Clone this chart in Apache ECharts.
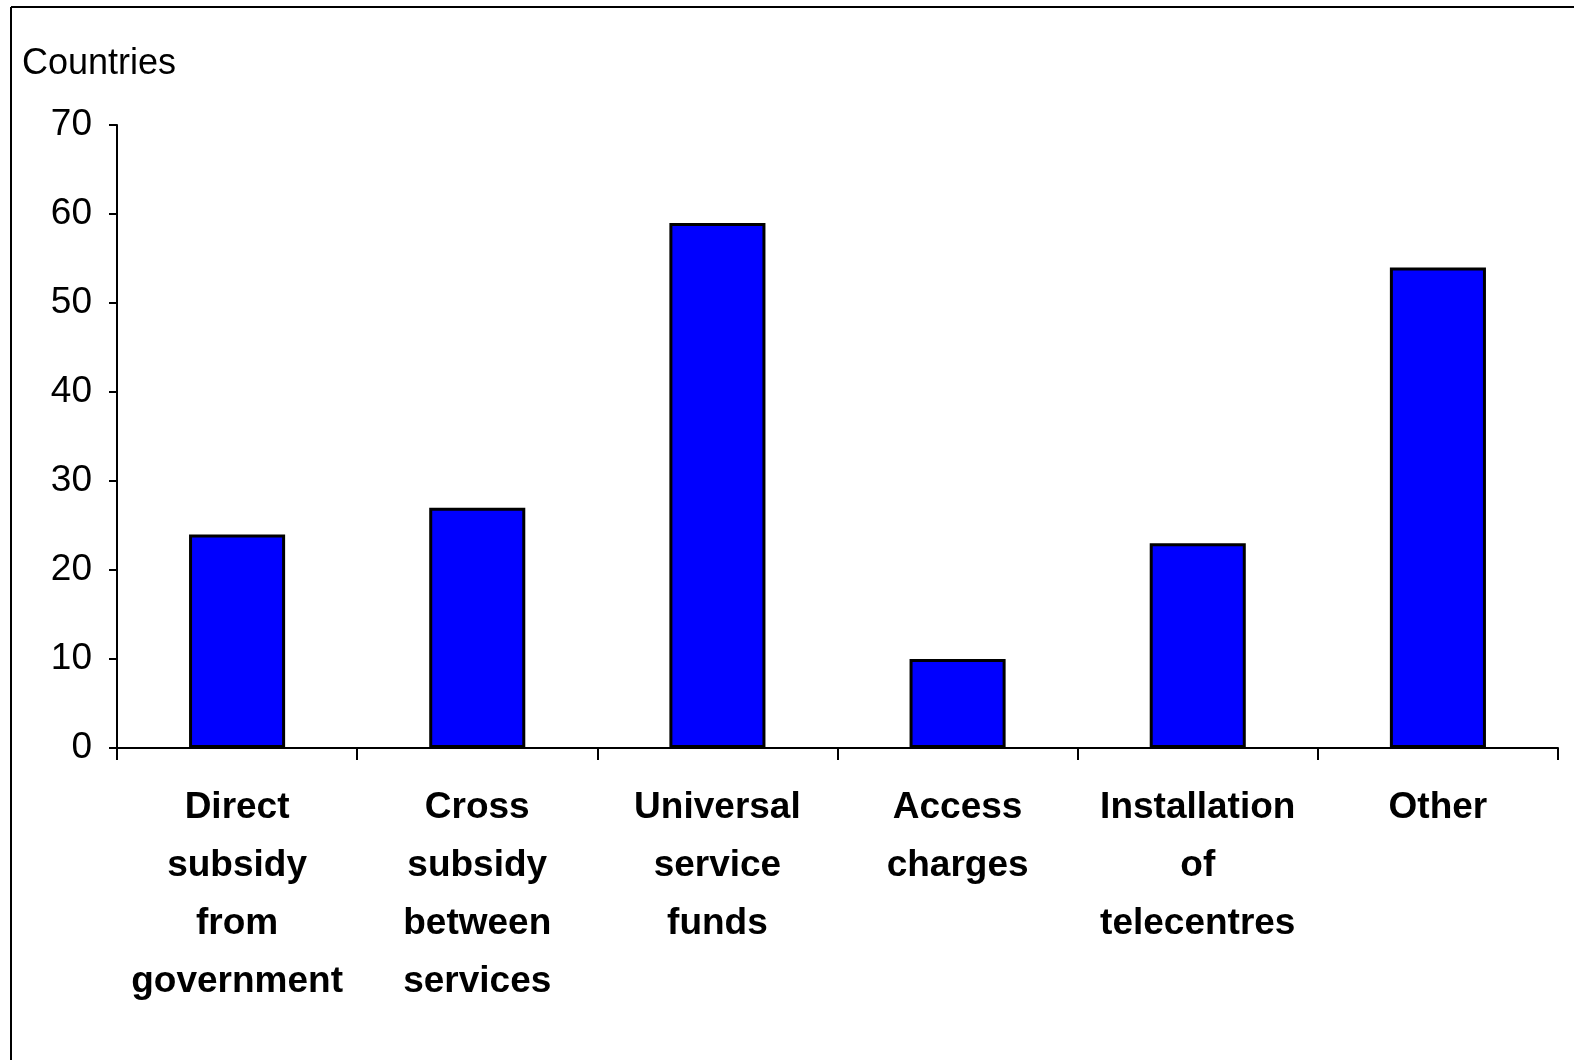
<!DOCTYPE html>
<html>
<head>
<meta charset="utf-8">
<script src="https://cdn.jsdelivr.net/npm/echarts@6/dist/echarts.min.js"></script>
<style>
html,body{margin:0;padding:0;background:#fff;}
#chart{width:1574px;height:1060px;}
</style>
</head>
<body>
<div id="chart"></div>
<script>
var categories = [
  "Direct\nsubsidy\nfrom\ngovernment",
  "Cross\nsubsidy\nbetween\nservices",
  "Universal\nservice\nfunds",
  "Access\ncharges",
  "Installation\nof\ntelecentres",
  "Other"
];
var countries = [24, 27, 59, 10, 23, 54];
var yTicks = { min: 0, max: 70, interval: 10 };
var yTitle = "Countries";

var chart = echarts.init(document.getElementById('chart'));
chart.setOption({
  animation: false,
  backgroundColor: '#ffffff',
  grid: { left: 117, right: 16, top: 125, bottom: 312, containLabel: false },
  graphic: [
    { type: 'line', shape: { x1: 11, y1: 7, x2: 11, y2: 1060 }, style: { stroke: '#000', lineWidth: 2 } },
    { type: 'line', shape: { x1: 11, y1: 7, x2: 1574, y2: 7 }, style: { stroke: '#000', lineWidth: 2 } },
    { type: 'text', left: 22, top: 46, style: { text: yTitle, font: '36px "Liberation Sans", Arial, sans-serif', fill: '#000' } }
  ],
  xAxis: {
    type: 'category',
    data: categories,
    axisLine: { lineStyle: { color: '#000', width: 2 } },
    axisTick: { show: true, length: 12, alignWithLabel: false, lineStyle: { color: '#000', width: 2 } },
    axisLabel: {
      interval: 0,
      margin: 31,
      color: '#000',
      fontFamily: '"Liberation Sans", Arial, sans-serif',
      fontWeight: 'bold',
      fontSize: 37,
      lineHeight: 58
    }
  },
  yAxis: {
    type: 'value',
    min: yTicks.min, max: yTicks.max, interval: yTicks.interval,
    axisLine: { show: true, lineStyle: { color: '#000', width: 2 } },
    axisTick: { show: true, length: 8, lineStyle: { color: '#000', width: 2 } },
    splitLine: { show: false },
    axisLabel: {
      margin: 25,
      color: '#000',
      fontFamily: '"Liberation Sans", Arial, sans-serif',
      fontSize: 37
    }
  },
  series: [{
    type: 'bar',
    data: countries,
    barWidth: '40%',
    itemStyle: { color: '#0000ff', borderColor: '#000', borderWidth: 3 }
  }]
});
</script>
</body>
</html>
